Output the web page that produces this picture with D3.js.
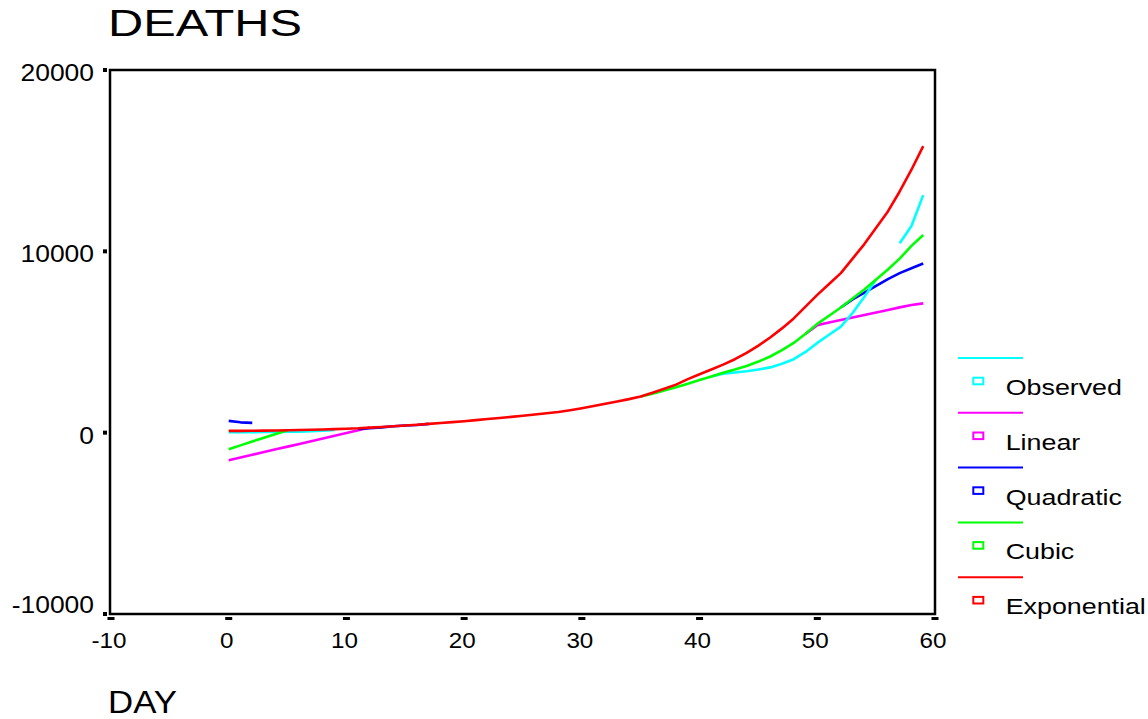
<!DOCTYPE html>
<html>
<head>
<meta charset="utf-8">
<script src="https://cdn.jsdelivr.net/npm/d3@7"></script>
<style>
  body { margin: 0; background: #fff; }
  text { font-family: 'Liberation Sans', Arial, sans-serif; fill: #000; }
</style>
</head>
<body>
<div id="chart"></div>
<script>

// DATA (null = not drawn)

var days = [0,1,2,3,4,5,6,7,8,9,10,11,12,13,14,15,16,17,18,19,
  20,21,22,23,24,25,26,27,28,29,30,31,32,33,34,35,36,37,38,39,
  40,41,42,43,44,45,46,47,48,49,50,51,52,53,54,55,56,57,58,59];

var observed = [30,30,30,35,40,50,60,80,110,150,
  null,null,null,null,null,null,null,null,null,null,
  null,null,null,null,null,null,null,null,null,null,
  null,null,null,null,null,null,null,null,null,null,
  null,3100,3250,3320,3390,3480,3600,3800,4050,4450,
  4950,5400,5850,6600,7500,8450,null,10450,11400,13100];

var linear = [-1520,-1370,-1220,-1070,-920,-770,-620,-470,-320,-170,
  -20,130,280,null,null,null,null,null,null,null,
  null,null,null,null,null,null,null,null,null,null,
  null,null,null,null,null,null,null,null,null,null,
  null,null,null,null,null,null,null,null,null,5450,
  5930,6070,6210,6350,6490,6630,6770,6910,7040,7130];

var quadratic = [650,570,540,null,null,null,null,null,null,null,
  null,200,240,290,350,395,420,485,null,null,
  null,null,null,null,null,null,null,null,null,null,
  null,null,null,null,null,null,null,null,null,null,
  null,null,null,null,null,null,null,null,null,null,
  null,null,6900,7350,7720,8100,8470,8800,9070,9330];

var cubic = [-920,-700,-490,-280,-70,130,null,null,null,null,
  null,null,null,null,null,null,null,null,null,null,
  null,null,null,null,null,null,null,null,null,null,
  null,null,null,null,null,2000,2150,2320,2500,2700,
  2900,3100,3300,3480,3680,3920,4200,4550,4950,5450,
  6000,6450,6900,7400,7900,8450,9000,9600,10300,10900];

var exponential = [100,100,105,110,120,130,145,160,175,195,
  215,240,280,315,355,395,440,485,530,580,
  630,690,750,810,870,930,1000,1070,1140,1240,
  1350,1470,1600,1720,1850,2000,2200,2420,2650,2950,
  3220,3480,3750,4050,4400,4800,5250,5750,6300,6950,
  7600,8200,8800,9600,10400,11300,12200,13300,14500,15800];

var legendNames = ['Observed', 'Linear', 'Quadratic', 'Cubic', 'Exponential'];
var legendColors = ['#00ffff', '#ff00ff', '#0000ff', '#00ff00', '#ff0000'];
var xTicks = [-10, 0, 10, 20, 30, 40, 50, 60];
var yTicks = [-10000, 0, 10000, 20000];

// draw order: later series cover earlier ones
var series = [
  { name: 'Linear', values: linear, color: '#ff00ff' },
  { name: 'Quadratic', values: quadratic, color: '#0000ff' },
  { name: 'Observed', values: observed, color: '#00ffff' },
  { name: 'Cubic', values: cubic, color: '#00ff00' },
  { name: 'Exponential', values: exponential, color: '#ff0000' }
];

// SETUP

var width = 1148, height = 719;

var chart = d3.select('#chart')
  .append('svg')
    .attr('width', width)
    .attr('height', height);

chart.append('rect')
  .attr('width', width)
  .attr('height', height)
  .attr('fill', '#fff');

var x = d3.scaleLinear().domain([-10, 60]).range([111, 935]);
var y = d3.scaleLinear().domain([-10000, 20000]).range([614, 70]);

function stretchedText(sel, txt, tx, ty, size, sx, anchor) {
  return sel.append('text')
    .text(txt)
    .attr('transform', 'translate(' + tx + ',' + ty + ') scale(' + sx + ',1)')
    .attr('font-size', size)
    .attr('text-anchor', anchor || 'start');
}

// TITLES

chart.append('text')
  .text('DEATHS')
  .attr('x', 108)
  .attr('y', 36)
  .attr('font-size', 36)
  .attr('textLength', 194)
  .attr('lengthAdjust', 'spacingAndGlyphs');

chart.append('text')
  .text('DAY')
  .attr('x', 108)
  .attr('y', 713)
  .attr('font-size', 31)
  .attr('textLength', 69)
  .attr('lengthAdjust', 'spacingAndGlyphs');

// FRAME + TICKS

chart.append('rect')
  .attr('x', 110)
  .attr('y', 70)
  .attr('width', 935 - 110)
  .attr('height', 614 - 70)
  .attr('fill', 'none')
  .attr('stroke', '#000')
  .attr('stroke-width', 2.5);

chart.selectAll('rect.ytick')
  .data(yTicks)
  .enter().append('rect')
    .attr('class', 'ytick')
    .attr('x', 103)
    .attr('y', function(d) { return y(d) - 2; })
    .attr('width', 4)
    .attr('height', 4)
    .attr('fill', '#000');

chart.selectAll('g.ylabel')
  .data(yTicks)
  .enter().append('g')
    .attr('class', 'ylabel')
    .each(function(d) {
      var dy = d === -10000 ? -1 : 11;
      stretchedText(d3.select(this), d, 94, y(d) + dy, 23, 1.15, 'end');
    });

chart.selectAll('rect.xtick')
  .data(xTicks)
  .enter().append('rect')
    .attr('class', 'xtick')
    .attr('x', function(d) { return x(d) - 3.5; })
    .attr('y', 617)
    .attr('width', 7)
    .attr('height', 3)
    .attr('fill', '#000');

chart.selectAll('g.xlabel')
  .data(xTicks)
  .enter().append('g')
    .attr('class', 'xlabel')
    .each(function(d) {
      stretchedText(d3.select(this), d, x(d) - 2, 648, 22, 1.1, 'middle');
    });

// LINES

var line = d3.line()
  .defined(function(d) { return d[1] !== null; })
  .x(function(d) { return x(d[0]); })
  .y(function(d) { return y(d[1]); });

chart.selectAll('path.series')
  .data(series)
  .enter().append('path')
    .attr('class', 'series')
    .attr('d', function(s) { return line(days.map(function(t, i) { return [t, s.values[i]]; })); })
    .attr('fill', 'none')
    .attr('stroke', function(s) { return s.color; })
    .attr('stroke-width', 2.6)
    .attr('stroke-linejoin', 'round');

// LEGEND

var legend = chart.selectAll('g.legend-item')
  .data(legendNames)
  .enter().append('g')
    .attr('class', 'legend-item')
    .attr('transform', function(d, i) { return 'translate(0,' + (i * 54.8) + ')'; });

legend.append('line')
  .attr('x1', 958)
  .attr('x2', 1023)
  .attr('y1', 358)
  .attr('y2', 358)
  .attr('stroke', function(d, i) { return legendColors[i]; })
  .attr('stroke-width', 2);

legend.append('rect')
  .attr('x', 973.3)
  .attr('y', 377.7)
  .attr('width', 10)
  .attr('height', 6.6)
  .attr('fill', 'none')
  .attr('stroke', function(d, i) { return legendColors[i]; })
  .attr('stroke-width', 2);

legend.each(function(d) {
  stretchedText(d3.select(this), d, 1005.7, 395, 22, 1.22, 'start');
});

</script>
</body>
</html>
